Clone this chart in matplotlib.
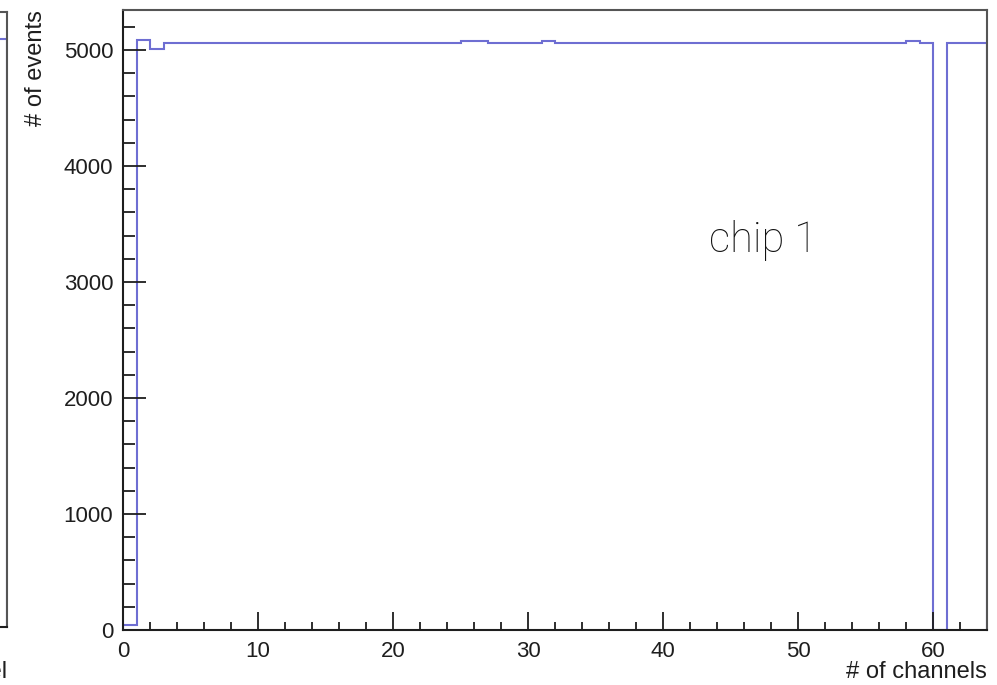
import numpy as np
import matplotlib
matplotlib.use("Agg")
import matplotlib.pyplot as plt
from matplotlib.ticker import MultipleLocator

plt.rcParams["font.family"] = ["Liberation Sans", "DejaVu Sans"]

# chip 1: counts per channel (64 channels)
chip1_counts = [
    40, 5090, 5010, 5063, 5063, 5063, 5063, 5063,
    5063, 5063, 5063, 5063, 5063, 5063, 5063, 5063,
    5063, 5063, 5063, 5063, 5063, 5063, 5063, 5063,
    5063, 5075, 5075, 5063, 5063, 5063, 5063, 5075,
    5063, 5063, 5063, 5063, 5063, 5063, 5063, 5063,
    5063, 5063, 5063, 5063, 5063, 5063, 5063, 5063,
    5063, 5063, 5063, 5063, 5063, 5063, 5063, 5063,
    5063, 5063, 5075, 5063, 0, 5063, 5063, 5063,
]
chip1_edges = np.arange(len(chip1_counts) + 1)

# neighbouring panel (chip 0), only its last channel reaches into view
chip0_tail_counts = [5070]
chip0_tail_edges = [63, 64]

x_major = [0, 10, 20, 30, 40, 50, 60]
y_major = [0, 1000, 2000, 3000, 4000, 5000]

hist_color = "#6e6ed2"
dark = "#1e1e1e"
grey = "#555555"

fig = plt.figure(figsize=(9.97, 6.85), dpi=100)


def style_frame(ax):
    ax.spines["left"].set_color(dark)
    ax.spines["bottom"].set_color(dark)
    ax.spines["top"].set_color(grey)
    ax.spines["right"].set_color(grey)
    for s in ax.spines.values():
        s.set_linewidth(1.5)


# left neighbour panel (mostly outside the figure)
ax0 = fig.add_axes([7 / 997 - 864 / 997, 1 - 627 / 685, 864 / 997, 615 / 685])
ax0.stairs(chip0_tail_counts, chip0_tail_edges, color=hist_color, linewidth=1.5)
ax0.set_xlim(0, 64)
ax0.set_ylim(0, 5300)
style_frame(ax0)
ax0.set_yticks([])
ax0.set_xticks([])
ax0.set_xlabel("# of channel", fontsize=17, loc="right", color=dark)
ax0.xaxis.set_label_coords(1.0, -0.055)

# chip 1 panel
ax = fig.add_axes([123 / 997, 1 - 630 / 685, 864 / 997, 620 / 685])
ax.stairs(chip1_counts, chip1_edges, baseline=0, color=hist_color, linewidth=1.5)
ax.set_xlim(0, 64)
ax.set_ylim(0, 5345)
style_frame(ax)

ax.set_xticks(x_major)
ax.set_yticks(y_major)
ax.xaxis.set_minor_locator(MultipleLocator(2))
ax.yaxis.set_minor_locator(MultipleLocator(200))
ax.tick_params(axis="both", which="both", direction="in", colors=dark,
               labelcolor=dark, labelsize=16, width=1.3, top=False, right=False)
ax.tick_params(axis="x", which="major", length=13, pad=8)
ax.tick_params(axis="x", which="minor", length=6)
ax.tick_params(axis="y", which="major", length=16.5, pad=7)
ax.tick_params(axis="y", which="minor", length=8.5)

ax.set_xlabel("# of channels", fontsize=17, loc="right", color=dark)
ax.xaxis.set_label_coords(1.0, -0.050)
ax.set_ylabel("# of events", fontsize=17, loc="top", color=dark)
ax.yaxis.set_label_coords(-0.088, 1.0)

ax.text(47.4, 3360, "chip 1", fontsize=30, family=["Roboto", "Liberation Sans"],
        fontweight="light", ha="center", va="center", color="#111111")

fig.savefig("out.png", dpi=100)
